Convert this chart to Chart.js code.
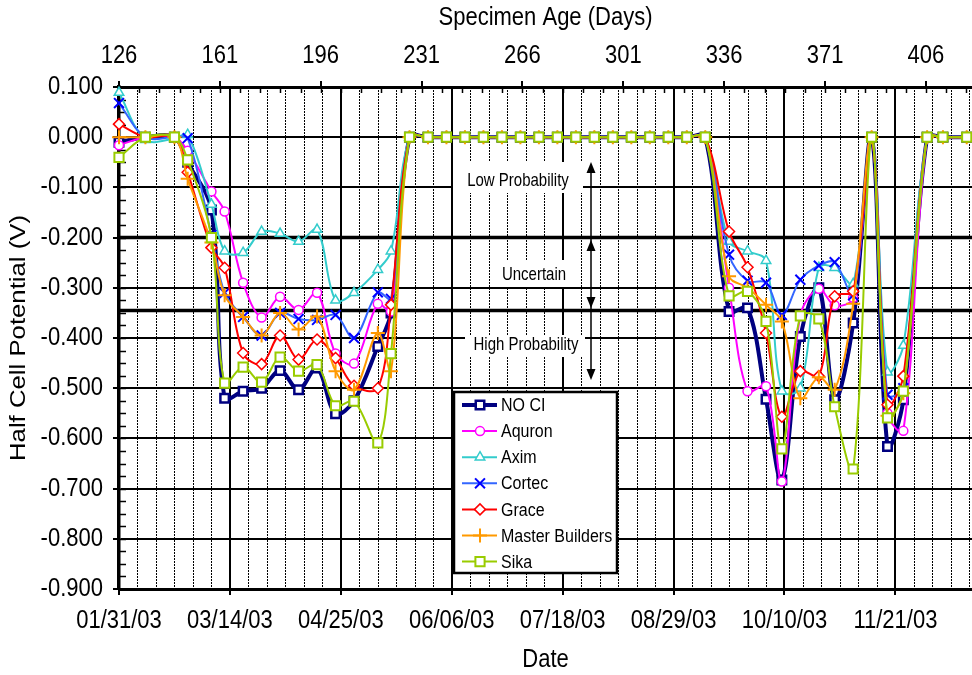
<!DOCTYPE html>
<html>
<head>
<meta charset="utf-8">
<title>Half Cell Potential</title>
<script src="https://cdn.jsdelivr.net/npm/chart.js@4.4.0/dist/chart.umd.min.js"></script>
<style>
  html, body { margin: 0; padding: 0; background: #fff; }
  #wrap { width: 972px; height: 675px; }
</style>
</head>
<body>
<div id="wrap"><canvas id="hcpChart" width="972" height="675"></canvas></div>
<script>
// reading dates (mm/dd/yy)
const readingDates = [
  '01/31/03', '02/10/03', '02/21/03', '02/26/03', '03/07/03', '03/12/03', '03/19/03', '03/26/03',
  '04/02/03', '04/09/03', '04/16/03', '04/23/03', '04/30/03', '05/09/03', '05/14/03', '05/21/03',
  '05/28/03', '06/04/03', '06/11/03', '06/18/03', '06/25/03', '07/02/03', '07/09/03', '07/16/03',
  '07/23/03', '07/30/03', '08/06/03', '08/13/03', '08/20/03', '08/27/03', '09/03/03', '09/10/03',
  '09/19/03', '09/26/03', '10/03/03', '10/09/03', '10/16/03', '10/23/03', '10/29/03', '11/05/03',
  '11/12/03', '11/18/03', '11/24/03', '12/03/03', '12/09/03', '12/18/03'
];

// half cell potential (V), one value per reading date
const noCi = [-0.010, 0, 0, -0.050, -0.145, -0.520, -0.506, -0.500, -0.465, -0.503, -0.460, -0.551, -0.525, -0.417, -0.350,
  0, 0, 0, 0, 0, 0, 0, 0, 0, 0, 0, 0, 0, 0, 0, 0, 0,
  -0.347, -0.340, -0.522, -0.683, -0.397, -0.300, -0.523, -0.370, 0, -0.616, -0.523, 0, 0, 0];
const aquron = [-0.016, 0, 0, -0.027, -0.108, -0.148, -0.290, -0.359, -0.318, -0.344, -0.310, -0.431, -0.451, -0.332, -0.347,
  0, 0, 0, 0, 0, 0, 0, 0, 0, 0, 0, 0, 0, 0, 0, 0, 0,
  -0.300, -0.506, -0.496, -0.686, -0.355, -0.302, -0.335, -0.320, 0, -0.550, -0.585, 0, 0, 0];
const axim = [0.089, -0.005, -0.003, 0.005, -0.134, -0.227, -0.230, -0.188, -0.192, -0.208, -0.184, -0.325, -0.310, -0.264, -0.227,
  0, 0, 0, 0, 0, 0, 0, 0, 0, 0, 0, 0, 0, 0, 0, 0, 0,
  -0.208, -0.227, -0.246, -0.506, -0.500, -0.260, -0.260, -0.292, 0, -0.468, -0.415, 0, 0, 0];
const cortec = [0.068, 0, 0, -0.002, -0.195, -0.310, -0.358, -0.395, -0.350, -0.362, -0.364, -0.354, -0.400, -0.309, -0.322,
  0, 0, 0, 0, 0, 0, 0, 0, 0, 0, 0, 0, 0, 0, 0, 0, 0,
  -0.234, -0.286, -0.290, -0.354, -0.284, -0.256, -0.249, -0.315, 0, -0.513, -0.500, 0, 0, 0];
const grace = [0.026, 0, 0, -0.070, -0.220, -0.260, -0.430, -0.452, -0.395, -0.443, -0.403, -0.440, -0.495, -0.500, -0.334,
  0, 0, 0, 0, 0, 0, 0, 0, 0, 0, 0, 0, 0, 0, 0, 0, 0,
  -0.188, -0.259, -0.390, -0.557, -0.466, -0.476, -0.317, -0.307, 0, -0.533, -0.476, 0, 0, 0];
const masterBuilders = [0, 0, 0, -0.083, -0.210, -0.315, -0.358, -0.395, -0.350, -0.383, -0.357, -0.466, -0.503, -0.390, -0.466,
  0, 0, 0, 0, 0, 0, 0, 0, 0, 0, 0, 0, 0, 0, 0, 0, 0,
  -0.277, -0.300, -0.334, -0.367, -0.520, -0.478, -0.503, -0.332, 0, -0.555, -0.510, 0, 0, 0];
const sika = [-0.040, 0, 0, -0.045, -0.200, -0.490, -0.458, -0.488, -0.438, -0.466, -0.453, -0.535, -0.526, -0.609, -0.431,
  0, 0, 0, 0, 0, 0, 0, 0, 0, 0, 0, 0, 0, 0, 0, 0, 0,
  -0.316, -0.307, -0.367, -0.621, -0.356, -0.362, -0.537, -0.661, 0, -0.559, -0.506, 0, 0, 0];

const seriesNames = ['NO CI', 'Aquron', 'Axim', 'Cortec', 'Grace', 'Master Builders', 'Sika'];
const seriesValues = [noCi, aquron, axim, cortec, grace, masterBuilders, sika];

// axis ticks
const dateTicks = ['01/31/03', '03/14/03', '04/25/03', '06/06/03', '07/18/03', '08/29/03', '10/10/03', '11/21/03'];
const ageTicks = [126, 161, 196, 231, 266, 301, 336, 371, 406];
const voltTicks = [0.1, 0, -0.1, -0.2, -0.3, -0.4, -0.5, -0.6, -0.7, -0.8, -0.9];

// corrosion probability limits (V) and zone names
const riskLimits = [-0.2, -0.345];
const riskLabels = ['Low Probability', 'Uncertain', 'High Probability'];

const FONT = '"Liberation Sans", Arial, Helvetica, sans-serif';
const TEXT_STRETCH = 1.17; // the original's lettering is drawn a bit tall
const startDate = Date.UTC(2003, 0, 31);

function dayOf(s) {
  const [m, d, y] = s.split('/').map(Number);
  return (Date.UTC(2000 + y, m - 1, d) - startDate) / 86400000;
}
function dateLabel(day) {
  const dt = new Date(startDate + day * 86400000);
  const p = n => String(n).padStart(2, '0');
  return p(dt.getUTCMonth() + 1) + '/' + p(dt.getUTCDate()) + '/' + p(dt.getUTCFullYear() % 100);
}
function tallText(ctx, text, x, y, align, rotate) {
  ctx.save();
  ctx.translate(x, y);
  ctx.scale(1, TEXT_STRETCH);
  if (rotate) ctx.rotate(-Math.PI / 2);
  ctx.textAlign = align;
  ctx.textBaseline = 'middle';
  ctx.fillText(text, 0, 0);
  ctx.restore();
}

const looks = [
  { line: '#000080', mark: '#000080', width: 4, style: 'rect', r: 6, bw: 2.5 },
  { line: '#FF00FF', mark: '#FF00FF', width: 2, style: 'circle', r: 4.5, bw: 1.5 },
  { line: '#33CCCC', mark: '#33CCCC', width: 2, style: 'triangle', r: 5.5, bw: 1.5 },
  { line: '#3366FF', mark: '#0000FF', width: 2, style: 'crossRot', r: 7, bw: 2 },
  { line: '#FF0000', mark: '#FF0000', width: 2, style: 'rectRot', r: 5.5, bw: 1.5 },
  { line: '#FF9900', mark: '#FF9900', width: 2, style: 'cross', r: 7, bw: 2 },
  { line: '#99CC00', mark: '#99CC00', width: 2, style: 'rect', r: 6.5, bw: 2 }
];

const datasets = seriesNames.map((name, i) => ({
  label: name,
  data: seriesValues[i].map((v, k) => ({ x: dayOf(readingDates[k]), y: v })),
  borderColor: looks[i].line,
  borderWidth: looks[i].width,
  pointStyle: looks[i].style,
  pointRadius: looks[i].r,
  pointBorderColor: looks[i].mark,
  pointBackgroundColor: '#fff',
  pointBorderWidth: looks[i].bw,
  tension: 0.35,
  clip: false,
  order: seriesNames.length - 1 - i
}));

// gridlines, limits, notes, axis text and legend
const decor = {
  id: 'decor',
  beforeDatasetsDraw(chart) {
    const { ctx, chartArea: a, scales: { x, y, xTop } } = chart;
    ctx.save();
    // weekly dotted gridlines
    ctx.strokeStyle = '#000';
    ctx.lineWidth = 1;
    ctx.setLineDash([2, 1]);
    for (let d = 7; d <= x.max; d += 7) {
      if (d % 42 === 0) continue;
      const px = Math.round(x.getPixelForValue(d)) + 0.5;
      ctx.beginPath(); ctx.moveTo(px, a.top); ctx.lineTo(px, a.bottom); ctx.stroke();
    }
    ctx.setLineDash([]);
    // minor ticks
    ctx.lineWidth = 1.5;
    for (let k = 0; k <= 40; k++) {
      const py = Math.round(y.getPixelForValue(-0.9 + k * 0.025)) + 0.5;
      ctx.beginPath(); ctx.moveTo(a.left, py); ctx.lineTo(a.left + 7, py); ctx.stroke();
    }
    for (let v = ageTicks[0]; v <= xTop.max; v += 7) {
      const px = Math.round(xTop.getPixelForValue(v)) + 0.5;
      ctx.beginPath(); ctx.moveTo(px, a.top); ctx.lineTo(px, a.top + 6); ctx.stroke();
    }
    // limit lines
    ctx.lineWidth = 3.5;
    riskLimits.forEach(v => {
      const py = y.getPixelForValue(v);
      ctx.beginPath(); ctx.moveTo(a.left, py); ctx.lineTo(a.right, py); ctx.stroke();
    });
    // zone notes
    const notes = [
      { cx: 518, cy: 181, box: [453, 162, 130, 31] },
      { cx: 534, cy: 275, box: [494, 260, 79, 27] },
      { cx: 526, cy: 345, box: [465, 335, 120, 22] }
    ];
    ctx.font = '15px ' + FONT;
    notes.forEach((n, i) => {
      ctx.fillStyle = '#fff';
      ctx.fillRect(...n.box);
      ctx.fillStyle = '#000';
      tallText(ctx, riskLabels[i], n.cx, n.cy, 'center');
    });
    // arrows
    const ax = 591;
    ctx.lineWidth = 1.5;
    ctx.beginPath(); ctx.moveTo(ax, 166); ctx.lineTo(ax, 375); ctx.stroke();
    const head = (tip, dir) => {
      ctx.beginPath();
      ctx.moveTo(ax, tip);
      ctx.lineTo(ax - 4.5, tip + dir * 11);
      ctx.lineTo(ax + 4.5, tip + dir * 11);
      ctx.closePath();
      ctx.fill();
    };
    head(162, 1); head(240, 1); head(308, -1); head(380, -1);
    ctx.restore();
  },
  afterDraw(chart) {
    const { ctx, chartArea: a, scales: { x, y, xTop } } = chart;
    ctx.save();
    // axis labels and titles
    ctx.fillStyle = '#000';
    ctx.font = '22px ' + FONT;
    x.ticks.forEach(t => tallText(ctx, dateLabel(t.value), x.getPixelForValue(t.value), 621, 'center'));
    xTop.ticks.forEach(t => tallText(ctx, String(t.value), xTop.getPixelForValue(t.value), 56, 'center'));
    y.ticks.forEach(t => tallText(ctx, t.value.toFixed(3), 103, y.getPixelForValue(t.value), 'right'));
    const midX = (a.left + a.right) / 2;
    tallText(ctx, 'Date', midX, 660, 'center');
    tallText(ctx, 'Specimen Age (Days)', midX, 18, 'center');
    tallText(ctx, 'Half Cell Potential (V)', 19, (a.top + a.bottom) / 2, 'center', true);

    // legend
    ctx.fillStyle = '#fff';
    ctx.fillRect(454, 392, 163, 181);
    ctx.strokeStyle = '#000';
    ctx.lineWidth = 2.5;
    ctx.strokeRect(454, 392, 163, 181);
    ctx.font = '16px ' + FONT;
    chart.data.datasets.forEach((ds, i) => {
      const ry = 405 + i * 26.1;
      ctx.strokeStyle = ds.borderColor;
      ctx.lineWidth = ds.borderWidth;
      ctx.beginPath(); ctx.moveTo(462, ry); ctx.lineTo(497, ry); ctx.stroke();
      ctx.strokeStyle = ds.pointBorderColor;
      ctx.fillStyle = '#fff';
      ctx.lineWidth = ds.pointBorderWidth;
      Chart.helpers.drawPoint(ctx, { pointStyle: ds.pointStyle, radius: ds.pointRadius, rotation: 0, borderWidth: ds.pointBorderWidth }, 480, ry);
      ctx.fillStyle = '#000';
      tallText(ctx, ds.label, 501, ry + 1, 'left');
    });
    ctx.restore();
  }
};

new Chart(document.getElementById('hcpChart'), {
  type: 'line',
  data: { datasets },
  plugins: [decor],
  options: {
    responsive: false,
    animation: false,
    devicePixelRatio: 1,
    layout: { padding: 0, autoPadding: false },
    plugins: { legend: { display: false }, tooltip: { enabled: false } },
    scales: {
      x: {
        type: 'linear', position: 'bottom', min: 0, max: 323,
        afterBuildTicks: s => { s.ticks = dateTicks.map(t => ({ value: dayOf(t) })); },
        afterFit: s => { s.height = 86; },
        ticks: { display: false },
        grid: { color: '#000', lineWidth: 2, tickLength: 6 },
        border: { color: '#000', width: 3 }
      },
      xTop: {
        type: 'linear', position: 'top', min: 126, max: 422,
        afterBuildTicks: s => { s.ticks = ageTicks.map(v => ({ value: v })); },
        afterFit: s => { s.height = 87; },
        ticks: { display: false },
        grid: { drawOnChartArea: false, color: '#000', lineWidth: 2, tickLength: 6 },
        border: { color: '#000', width: 3 }
      },
      y: {
        min: -0.9, max: 0.1,
        afterBuildTicks: s => { s.ticks = voltTicks.map(v => ({ value: v })); },
        afterFit: s => { s.width = 119; },
        ticks: { display: false },
        grid: { color: '#000', lineWidth: 2, tickLength: 6 },
        border: { color: '#000', width: 3.5 }
      }
    }
  }
});
</script>
</body>
</html>
